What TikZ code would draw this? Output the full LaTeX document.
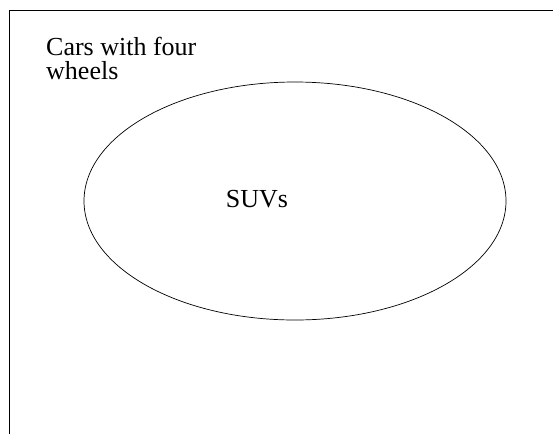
\documentclass[tikz,border=0pt]{standalone}
\usepackage{fontspec}
\setmainfont{Liberation Serif}
\usetikzlibrary{shapes.geometric}

\begin{document}
\begin{tikzpicture}[
    x=1pt, y=-1pt,
    set label/.style={font=\fontsize{26}{24}\selectfont,inner sep=0pt},
    subset/.style={ellipse,draw,line width=0.7pt,minimum width=422pt,minimum height=238pt,inner sep=0pt}
]

\useasboundingbox (0,0) rectangle (553,434);

% universe box (only the top and left sides show)
\coordinate (tl) at (9.5,10);
\coordinate (tr) at (553,10);
\coordinate (bl) at (9.5,434);
\draw[line width=0.9pt] (tr) -- (tl) -- (bl);

\node[set label,anchor=north west,align=left] (cars) at (46,37) {Cars with four\\wheels};

\node[subset] (suv) at (295,201) {};
\node[set label] (suvlabel) at (257,199) {SUVs};

\end{tikzpicture}
\end{document}
